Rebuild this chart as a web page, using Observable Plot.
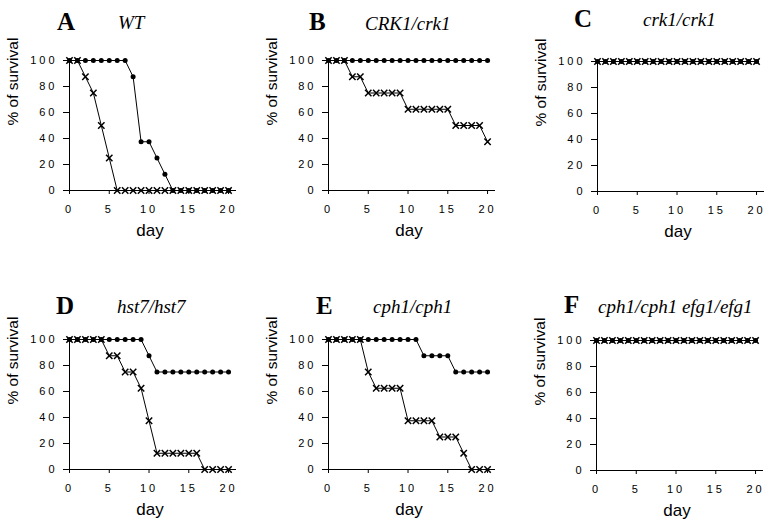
<!DOCTYPE html>
<html><head><meta charset="utf-8">
<script src="https://cdn.jsdelivr.net/npm/d3@7"></script>
<script src="https://cdn.jsdelivr.net/npm/@observablehq/plot@0.6"></script>
<style>
body{margin:0;background:#fff;}
#wrap{position:relative;width:773px;height:527px;overflow:hidden;background:#fff;}
.p{position:absolute;}
.lt{position:absolute;font-family:"Liberation Serif","Times New Roman",serif;font-weight:bold;font-size:25px;line-height:1;white-space:nowrap;}
.gn{position:absolute;font-family:"Liberation Serif","Times New Roman",serif;font-style:italic;font-weight:normal;font-size:19px;line-height:1;white-space:nowrap;}
[aria-label="y-axis tick label"] text,[aria-label="x-axis tick label"] text{letter-spacing:3px;}
</style></head><body><div id="wrap"></div>
<script>
// Data
const days = [0,1,2,3,4,5,6,7,8,9,10,11,12,13,14,15,16,17,18,19,20];
const xTicks = [0,5,10,15,20];
const yTicks = [0,20,40,60,80,100];
const panelLetters = ["A","B","C","D","E","F"];
const genotypes = ["WT","CRK1/crk1","crk1/crk1","hst7/hst7","cph1/cph1","cph1/cph1 efg1/efg1"];

// filled-circle series (% survival per day)
const A_dot = [100,100,100,100,100,100,100,100,87.5,37.5,37.5,25,12.5,0,0,0,0,0,0,0,0];
const B_dot = [100,100,100,100,100,100,100,100,100,100,100,100,100,100,100,100,100,100,100,100,100];
const C_dot = [100,100,100,100,100,100,100,100,100,100,100,100,100,100,100,100,100,100,100,100,100];
const D_dot = [100,100,100,100,100,100,100,100,100,100,87.5,75,75,75,75,75,75,75,75,75,75];
const E_dot = [100,100,100,100,100,100,100,100,100,100,100,100,87.5,87.5,87.5,87.5,75,75,75,75,75];
const F_dot = [100,100,100,100,100,100,100,100,100,100,100,100,100,100,100,100,100,100,100,100,100];

// cross series (% survival per day)
const A_x = [100,100,87.5,75,50,25,0,0,0,0,0,0,0,0,0,0,0,0,0,0,0];
const B_x = [100,100,100,87.5,87.5,75,75,75,75,75,62.5,62.5,62.5,62.5,62.5,62.5,50,50,50,50,37.5];
const C_x = [100,100,100,100,100,100,100,100,100,100,100,100,100,100,100,100,100,100,100,100,100];
const D_x = [100,100,100,100,100,87.5,87.5,75,75,62.5,37.5,12.5,12.5,12.5,12.5,12.5,12.5,0,0,0,0];
const E_x = [100,100,100,100,100,75,62.5,62.5,62.5,62.5,37.5,37.5,37.5,37.5,25,25,25,12.5,0,0,0];
const F_x = [100,100,100,100,100,100,100,100,100,100,100,100,100,100,100,100,100,100,100,100,100];

const dotSeries = [A_dot,B_dot,C_dot,D_dot,E_dot,F_dot];
const xSeries = [A_x,B_x,C_x,D_x,E_x,F_x];

// layout
const plotPos = [[0,50],[259,50],[528,51],[0,329],[259,329],[527,330]];
const letterPos = [[57,9],[309,9],[574,6],[56,293],[316,293],[564,292]];
const genePos = [[118,13],[365,14],[643,10],[117,297],[373,297],[598,297]];

function panel(dv, xv){
  const dotData = days.map((d,i)=>({day:d, v:dv[i]}));
  const xData = days.map((d,i)=>({day:d, v:xv[i]}));
  return Plot.plot({
    width: 246, height: 200,
    marginLeft: 69, marginRight: 10, marginTop: 10, marginBottom: 60,
    x: {domain:[0,21]},
    y: {domain:[0,100]},
    style: {fontFamily:"'Liberation Sans', Arial, sans-serif", color:"#000", background:"transparent", overflow:"visible"},
    marks: [
      Plot.ruleY([0], {stroke:"#000", strokeWidth:1}),
      Plot.ruleX([0], {stroke:"#000", strokeWidth:1}),
      Plot.axisX({ticks:xTicks, tickSize:4, tickPadding:11, fontSize:11, label:null, tickFormat:d=>String(d)}),
      Plot.axisY({ticks:yTicks, tickSize:6, tickPadding:6, fontSize:11, label:null, tickFormat:d=>String(d)}),
      Plot.text(["% of survival"], {text:d=>d, frameAnchor:"left", rotate:-90, dx:-56, fontSize:15.5, fill:"#000"}),
      Plot.text(["day"], {text:d=>d, frameAnchor:"bottom", dy:45, dx:-3, fontSize:17, fill:"#000"}),
      Plot.line(xData, {x:"day", y:"v", stroke:"#000", strokeWidth:1}),
      Plot.dot(xData, {x:"day", y:"v", symbol:"times", r:3, stroke:"#000", strokeWidth:1.5}),
      Plot.line(dotData, {x:"day", y:"v", stroke:"#000", strokeWidth:1}),
      Plot.dot(dotData, {x:"day", y:"v", r:2.5, fill:"#000", stroke:"none"})
    ]
  });
}

const wrap = document.getElementById("wrap");
for (let i=0;i<6;i++){
  const svg = panel(dotSeries[i], xSeries[i]);
  svg.classList.add("p");
  svg.style.left = plotPos[i][0]+"px";
  svg.style.top = plotPos[i][1]+"px";
  wrap.appendChild(svg);
  const l = document.createElement("div");
  l.className = "lt"; l.textContent = panelLetters[i];
  l.style.left = letterPos[i][0]+"px"; l.style.top = letterPos[i][1]+"px";
  wrap.appendChild(l);
  const g = document.createElement("div");
  g.className = "gn"; g.textContent = genotypes[i];
  g.style.left = genePos[i][0]+"px"; g.style.top = genePos[i][1]+"px";
  wrap.appendChild(g);
}
</script></body></html>
